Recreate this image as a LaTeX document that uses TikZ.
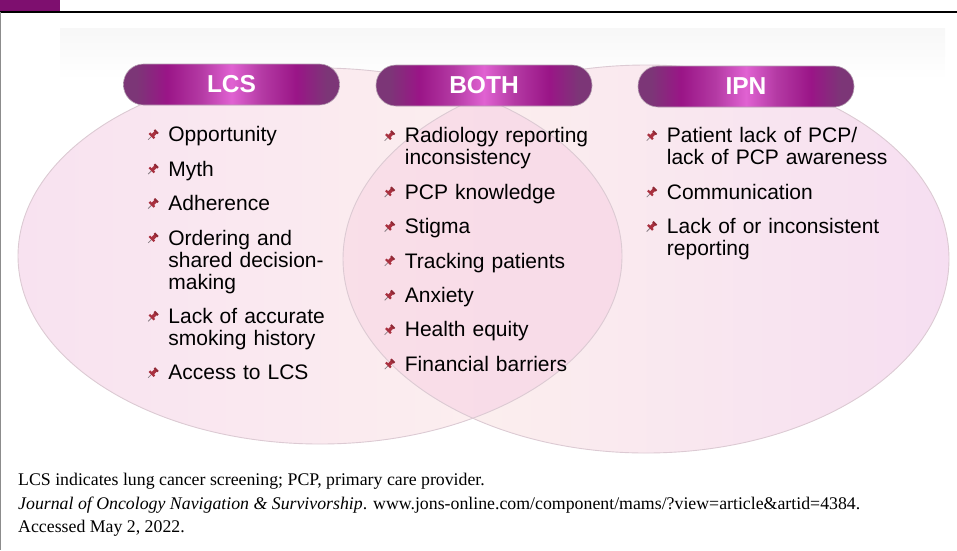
\documentclass[tikz,border=0pt]{standalone}
\usepackage{fontspec}
\setmainfont{Liberation Serif}
\setsansfont{Liberation Sans}
\usetikzlibrary{positioning}

\definecolor{pillend}{HTML}{7C3677}
\definecolor{pillmid}{HTML}{9A1587}
\definecolor{pilllight}{HTML}{B43AA4}
\definecolor{pillhi}{HTML}{E062D2}
\definecolor{pillrim}{HTML}{B7A2B3}
\definecolor{headbar}{HTML}{7E0F6F}
\definecolor{lcsleft}{HTML}{F8E2F0}
\definecolor{lcsright}{HTML}{FDF2EF}
\definecolor{ipnleft}{HTML}{FDF3ED}
\definecolor{ipnright}{HTML}{F6DEF1}
\definecolor{lens}{HTML}{F7CFE4}
\definecolor{rim}{HTML}{DCCAD3}
\definecolor{pinred}{HTML}{A9303F}
\definecolor{pingray}{HTML}{8A7F86}

\pgfdeclarehorizontalshading{pillshade}{100bp}{color(0bp)=(pillend); color(28bp)=(pillend);
  color(35bp)=(pillmid); color(43bp)=(pilllight); color(50bp)=(pillhi); color(57bp)=(pilllight);
  color(65bp)=(pillmid); color(72bp)=(pillend); color(100bp)=(pillend)}

\begin{document}
\begin{tikzpicture}[x=1pt, y=-1pt, node distance=12pt,
    pill/.style={draw=pillrim, line width=0.6pt, shade, shading=pillshade, rounded corners=20pt,
      minimum width=216pt, minimum height=41pt, inner sep=0pt, text=white,
      font=\sffamily\bfseries\fontsize{24.5}{26}\selectfont},
    item/.style={align=left, text width=230pt, inner sep=0pt,
      font=\sffamily\fontsize{21}{22}\selectfont,
      execute at begin node=\strut, execute at end node=\strut,
      label={[pinmark]north west:{}}},
    pinmark/.style={anchor=center, xshift=-15pt, yshift=-8.4pt, minimum size=12pt, inner sep=0pt,
      path picture={
        \draw[pingray, line width=0.8pt] ([shift={(-5pt,-5pt)}]path picture bounding box.center) -- ++(4pt,4pt);
        \draw[pinred, line width=2.2pt] ([shift={(-3.8pt,1.6pt)}]path picture bounding box.center) -- ++(5pt,-5pt);
        \draw[pinred, line width=3.4pt] ([shift={(-1.2pt,-1.2pt)}]path picture bounding box.center) -- ++(4.2pt,4.2pt);
        \draw[pinred!85!black, line width=2pt] ([shift={(1.2pt,4.8pt)}]path picture bounding box.center) -- ++(3.6pt,-3.6pt);
      }},
    caption/.style={anchor=base west, inner sep=0pt, font=\fontsize{17.8}{24}\selectfont}]
  \useasboundingbox (0,0) rectangle (957,550);

  % frame and header bar
  \fill[headbar] (0,0) rectangle (60,11);
  \draw[line width=1.3pt] (0,12) -- (957,12);
  \draw[black!45, line width=1pt] (0.5,12) -- (0.5,550);
  \shade[top color=black!3, bottom color=white] (60,28) rectangle (945,80);

  % the two circles
  \coordinate (lcsc) at (320,256);
  \coordinate (ipnc) at (646,259);
  \shade[left color=lcsleft, right color=lcsright] (lcsc) ellipse [x radius=302pt, y radius=188pt];
  \shade[left color=ipnleft, right color=ipnright] (ipnc) ellipse [x radius=303pt, y radius=194pt];
  \begin{scope}
    \clip (lcsc) ellipse [x radius=302pt, y radius=188pt];
    \fill[lens, fill opacity=0.55] (ipnc) ellipse [x radius=303pt, y radius=194pt];
  \end{scope}
  \draw[rim, line width=0.9pt] (lcsc) ellipse [x radius=302pt, y radius=188pt];
  \draw[rim, line width=0.9pt] (ipnc) ellipse [x radius=303pt, y radius=194pt];

  % headings
  \node[pill] (lcs) at (231.5,84.5) {LCS};
  \node[pill] (both) at (484,85.5) {BOTH};
  \node[pill] (ipn) at (746,86.5) {IPN};

  % LCS only
  \node[item, below=21pt of lcs.south west, anchor=north west, xshift=45pt] (l1) {Opportunity};
  \node[item, below=of l1] (l2) {Myth};
  \node[item, below=of l2] (l3) {Adherence};
  \node[item, below=of l3] (l4) {Ordering and\\shared decision-\\making};
  \node[item, below=of l4] (l5) {Lack of accurate\\smoking history};
  \node[item, below=of l5] (l6) {Access to LCS};

  % both
  \node[item, below=21pt of both.south west, anchor=north west, xshift=29pt] (b1) {Radiology reporting\\inconsistency};
  \node[item, below=of b1] (b2) {PCP knowledge};
  \node[item, below=of b2] (b3) {Stigma};
  \node[item, below=of b3] (b4) {Tracking patients};
  \node[item, below=of b4] (b5) {Anxiety};
  \node[item, below=of b5] (b6) {Health equity};
  \node[item, below=of b6] (b7) {Financial barriers};

  % IPN only
  \node[item, below=20pt of ipn.south west, anchor=north west, xshift=29pt] (i1) {Patient lack of PCP/\\lack of PCP awareness};
  \node[item, below=of i1] (i2) {Communication};
  \node[item, below=of i2] (i3) {Lack of or inconsistent\\reporting};

  % source lines
  \node[caption] (cap1) at (18,485) {LCS indicates lung cancer screening; PCP, primary care provider.};
  \node[caption] (cap2) at ([yshift=-24pt]cap1.base west) {\textit{Journal of Oncology Navigation \& Survivorship}. www.jons-online.com/component/mams/?view=article\&artid=4384.};
  \node[caption] (cap3) at ([yshift=-23pt]cap2.base west) {Accessed May 2, 2022.};
\end{tikzpicture}
\end{document}
